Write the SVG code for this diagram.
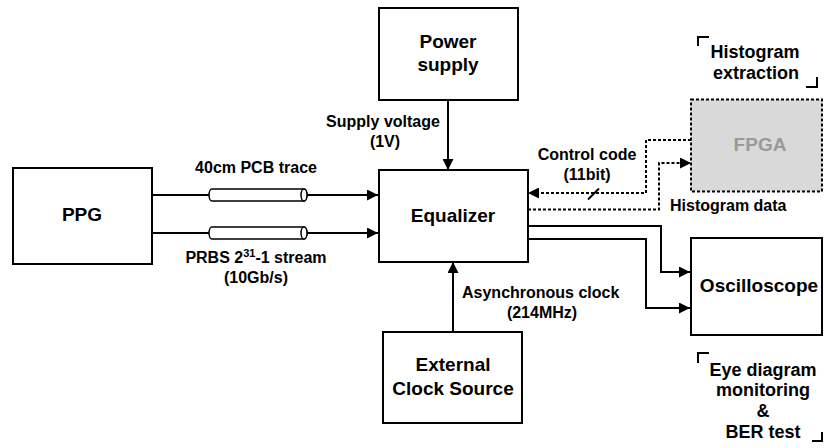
<svg xmlns="http://www.w3.org/2000/svg" width="824" height="448" viewBox="0 0 824 448">
<style>
text{font-family:"Liberation Sans",Arial,sans-serif;font-weight:bold;fill:#000}
.lbl{font-size:16px}
.big{font-size:19px}
.mid{font-size:18px}
.box{fill:#fff;stroke:#000;stroke-width:2}
.ln{fill:none;stroke:#000;stroke-width:2}
.dl{fill:none;stroke:#000;stroke-width:2;stroke-dasharray:3 2}
.mid2{text-anchor:middle}
</style>
<defs>
<marker id="ah" viewBox="0 0 10 10" refX="10" refY="5" markerWidth="16" markerHeight="11" markerUnits="userSpaceOnUse" orient="auto">
<path d="M0,0 L10,5 L0,10 Z" fill="#000"/>
</marker>
</defs>
<rect width="824" height="448" fill="#fff"/>

<g id="connectors">
<path class="ln" d="M152,195 H212"/>
<path class="ln" d="M307,195 H378" marker-end="url(#ah)"/>
<path class="ln" d="M152,233 H212"/>
<path class="ln" d="M307,233 H378" marker-end="url(#ah)"/>
<g id="cable1">
<path d="M212,189 H304 A3,6 0 0 1 304,201 H212 A3,6 0 0 1 212,189 Z" fill="#fff" stroke="#000" stroke-width="1.5"/>
<ellipse cx="304" cy="195" rx="3" ry="6" fill="#fff" stroke="#000" stroke-width="1.5"/>
</g>
<g id="cable2">
<path d="M212,227 H304 A3,6 0 0 1 304,239 H212 A3,6 0 0 1 212,227 Z" fill="#fff" stroke="#000" stroke-width="1.5"/>
<ellipse cx="304" cy="233" rx="3" ry="6" fill="#fff" stroke="#000" stroke-width="1.5"/>
</g>
<path class="ln" d="M448,100 V170" marker-end="url(#ah)"/>
<path class="ln" d="M453,332 V262" marker-end="url(#ah)"/>
<path class="ln" d="M528,226 H661 V272 H690" marker-end="url(#ah)"/>
<path class="ln" d="M528,239 H646 V308 H690" marker-end="url(#ah)"/>
<path class="dl" d="M691,140 H646 V193 H528" marker-end="url(#ah)"/>
<path class="dl" d="M528,209.5 H659 V163 H691" marker-end="url(#ah)"/>
<path class="ln" d="M588,199.5 L599,188.5" stroke-width="1.5"/>
</g>

<g id="ppg">
<rect class="box" x="13" y="168" width="139" height="96"/>
<text class="big mid2" x="82" y="221">PPG</text>
</g>
<g id="power">
<rect class="box" x="379" y="8" width="139" height="92"/>
<text class="big mid2" x="448" y="48">Power</text>
<text class="big mid2" x="448" y="71">supply</text>
</g>
<g id="equalizer">
<rect class="box" x="379" y="170" width="149" height="92"/>
<text class="big mid2" x="453" y="222">Equalizer</text>
</g>
<g id="clock">
<rect class="box" x="383" y="332" width="139" height="91"/>
<text class="big mid2" x="453" y="371">External</text>
<text class="big mid2" x="453" y="395">Clock Source</text>
</g>
<g id="oscilloscope">
<rect class="box" x="691" y="238" width="131" height="97"/>
<text class="big mid2" x="759" y="292">Oscilloscope</text>
</g>
<g id="fpga">
<rect x="691" y="99.5" width="131" height="92" fill="#d9d9d9" stroke="#000" stroke-width="2" stroke-dasharray="3 2"/>
<text class="big mid2" x="760" y="151" style="fill:#999">FPGA</text>
</g>

<g id="labels">
<text class="lbl mid2" x="256" y="173">40cm PCB trace</text>
<text class="lbl mid2" x="256" y="263">PRBS 2<tspan font-size="11" dy="-6">31</tspan><tspan dy="6">-1 stream</tspan></text>
<text class="lbl mid2" x="256" y="283">(10Gb/s)</text>
<text class="lbl mid2" x="383" y="127">Supply voltage</text>
<text class="lbl mid2" x="385" y="147">(1V)</text>
<text class="lbl mid2" x="587" y="160">Control code</text>
<text class="lbl mid2" x="587" y="180">(11bit)</text>
<text class="lbl" x="670" y="211">Histogram data</text>
<text class="lbl" x="462" y="298">Asynchronous clock</text>
<text class="lbl mid2" x="542" y="318">(214MHz)</text>
</g>

<g id="histogram-note">
<path class="ln" d="M698,46 V37 H709"/>
<path class="ln" d="M806,87 H817 V77"/>
<text class="mid mid2" x="755" y="58">Histogram</text>
<text class="mid mid2" x="756" y="79">extraction</text>
</g>
<g id="eye-note">
<path class="ln" d="M698,363 V353 H709"/>
<path class="ln" d="M812,441 H822 V432"/>
<text class="mid mid2" x="763" y="376">Eye diagram</text>
<text class="mid mid2" x="763" y="396">monitoring</text>
<text class="mid mid2" x="763" y="417">&amp;</text>
<text class="mid mid2" x="763" y="438">BER test</text>
</g>
</svg>
